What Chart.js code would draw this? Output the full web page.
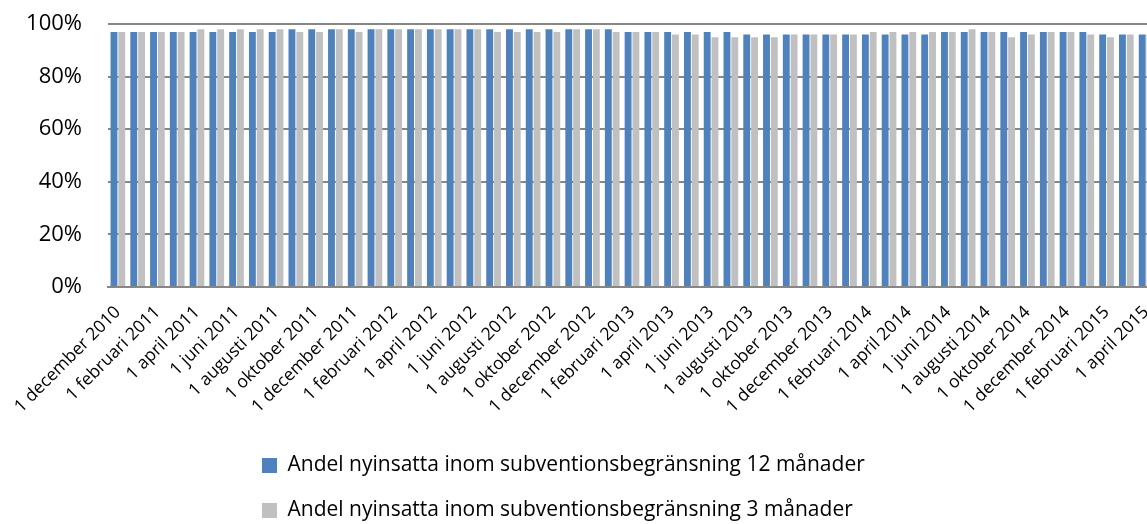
<!DOCTYPE html>
<html>
<head>
<meta charset="utf-8">
<script src="https://cdn.jsdelivr.net/npm/chart.js@4/dist/chart.umd.min.js"></script>
<style>
  html, body { margin: 0; padding: 0; background: #fff; overflow: hidden; }
  #wrap { position: absolute; left: 0; top: 0; width: 1160px; height: 531px; }
</style>
</head>
<body>
<div id="wrap"><canvas id="chart"></canvas></div>
<script>
// months, one bar pair per month, label shown every second month
var months = [
  '1 december 2010', '1 januari 2011', '1 februari 2011', '1 mars 2011', '1 april 2011', '1 maj 2011',
  '1 juni 2011', '1 juli 2011', '1 augusti 2011', '1 september 2011', '1 oktober 2011', '1 november 2011',
  '1 december 2011', '1 januari 2012', '1 februari 2012', '1 mars 2012', '1 april 2012', '1 maj 2012',
  '1 juni 2012', '1 juli 2012', '1 augusti 2012', '1 september 2012', '1 oktober 2012', '1 november 2012',
  '1 december 2012', '1 januari 2013', '1 februari 2013', '1 mars 2013', '1 april 2013', '1 maj 2013',
  '1 juni 2013', '1 juli 2013', '1 augusti 2013', '1 september 2013', '1 oktober 2013', '1 november 2013',
  '1 december 2013', '1 januari 2014', '1 februari 2014', '1 mars 2014', '1 april 2014', '1 maj 2014',
  '1 juni 2014', '1 juli 2014', '1 augusti 2014', '1 september 2014', '1 oktober 2014', '1 november 2014',
  '1 december 2014', '1 januari 2015', '1 februari 2015', '1 mars 2015', '1 april 2015'
];

var within12 = [
  97, 97, 97, 97, 97, 97, 97, 97, 97, 98, 98, 98,
  98, 98, 98, 98, 98, 98, 98, 98, 98, 98, 98, 98,
  98, 98, 97, 97, 97, 97, 97, 97, 96, 96, 96, 96,
  96, 96, 96, 96, 96, 96, 97, 97, 97, 97, 97, 97,
  97, 97, 96, 96, 96
];

var within3 = [
  97, 97, 97, 97, 98, 98, 98, 98, 98, 97, 97, 98,
  97, 98, 98, 98, 98, 98, 98, 97, 97, 97, 97, 98,
  98, 97, 97, 97, 96, 96, 95, 95, 95, 95, 96, 96,
  96, 96, 97, 97, 97, 97, 97, 98, 97, 95, 96, 97,
  97, 96, 95, 96, 96
];

var seriesNames = [
  'Andel nyinsatta inom subventionsbegränsning 12 månader',
  'Andel nyinsatta inom subventionsbegränsning 3 månader'
];

var yTicks = [0, 20, 40, 60, 80, 100];

var font = '"Open Sans", "Liberation Sans", sans-serif';

// legend entries sit left-aligned in a block, like the spreadsheet legend
var legendShift = {
  id: 'legendShift',
  afterLayout: function (chart) {
    chart.legend.left = 238;
  }
};

var ctx = document.getElementById('chart').getContext('2d');
var chart = new Chart(ctx, {
  type: 'bar',
  data: {
    labels: months,
    datasets: [{
      label: seriesNames[0],
      data: within12,
      backgroundColor: '#4F81BD',
      barPercentage: 0.88,
      categoryPercentage: 0.79
    }, {
      label: seriesNames[1],
      data: within3,
      backgroundColor: '#C0C0C0',
      barPercentage: 0.88,
      categoryPercentage: 0.79
    }]
  },
  plugins: [legendShift],
  options: {
    responsive: true,
    maintainAspectRatio: false,
    animation: false,
    layout: { padding: { top: 24, left: 0, right: 4, bottom: 0 } },
    plugins: {
      tooltip: { enabled: false },
      legend: {
        position: 'bottom',
        align: 'start',
        labels: {
          color: '#000',
          font: { family: font, size: 21 },
          boxWidth: 15,
          boxHeight: 15,
          padding: 24
        }
      }
    },
    scales: {
      x: {
        afterFit: function (scale) {
          scale.height = 144;
          scale.paddingLeft = 0;
          scale.paddingRight = 0;
        },
        grid: { display: false },
        border: { display: true, color: '#868686', width: 2 },
        ticks: {
          color: '#000',
          font: { family: font, size: 17.5 },
          autoSkip: false,
          maxRotation: 45,
          minRotation: 45,
          padding: 7,
          callback: function (v, i) { return i % 2 === 0 ? months[i] : ''; }
        }
      },
      y: {
        min: 0,
        max: 100,
        afterBuildTicks: function (scale) {
          scale.ticks = yTicks.map(function (v) { return { value: v }; });
        },
        afterFit: function (scale) {
          scale.width = 108;
          scale.paddingTop = 0;
          scale.paddingBottom = 0;
        },
        grid: { color: '#868686', lineWidth: 2, drawTicks: false },
        border: { display: false },
        ticks: {
          color: '#000',
          font: { family: font, size: 22 },
          padding: 26,
          callback: function (v) { return v + '%'; }
        }
      }
    }
  }
});
</script>
</body>
</html>
